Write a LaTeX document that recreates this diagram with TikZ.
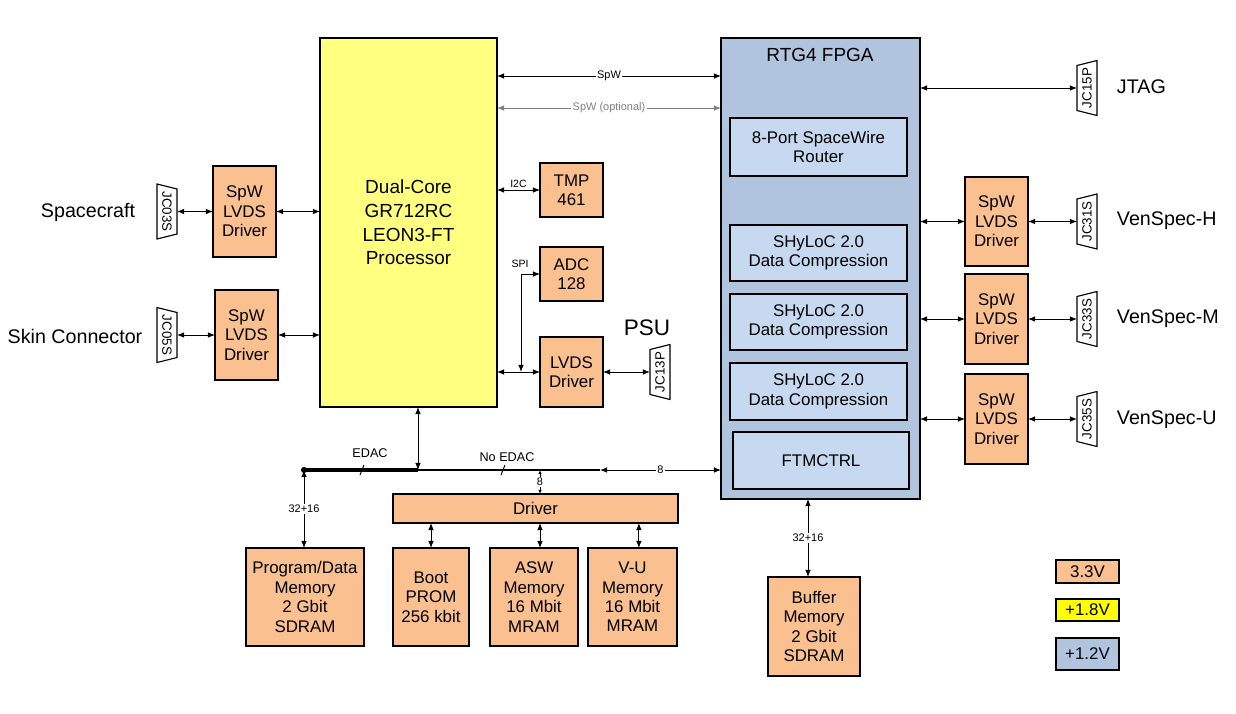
\documentclass[tikz,border=0pt]{standalone}
\usepackage{fontspec}
\setmainfont{Liberation Sans}
\usetikzlibrary{arrows.meta,calc}
\definecolor{org}{RGB}{250,192,144}
\definecolor{cpuyel}{RGB}{255,255,128}
\definecolor{pureyel}{RGB}{255,255,0}
\definecolor{fpgablue}{RGB}{176,196,222}
\definecolor{innerblue}{RGB}{198,217,241}
\definecolor{optgray}{RGB}{128,128,128}
\newcommand{\bx}[7]{\node[#6, minimum width={(#4-#2)*0.025cm}, minimum height={(#5-#3)*0.025cm}] (#1) at ({(#2+#4)/2},{(#3+#5)/2}) {#7};}
\newcommand{\connL}[3]{\node[conn] (#1) at (#2) {\rotatebox{-90}{#3}};
  \draw[connline] (#1.north west) -- ([yshift=-0.125cm]#1.north east) -- ([yshift=0.125cm]#1.south east) -- (#1.south west) -- cycle;}
\newcommand{\connR}[3]{\node[conn] (#1) at (#2) {\rotatebox{90}{#3}};
  \draw[connline] ([yshift=-0.125cm]#1.north west) -- (#1.north east) -- (#1.south east) -- ([yshift=0.125cm]#1.south west) -- cycle;}
\begin{document}
\begin{tikzpicture}[x=0.025cm,y=-0.025cm,
  box/.style={draw, line width=0.8pt, inner sep=1pt, outer sep=0pt, align=center, font=\fontsize{12}{13.8}\selectfont},
  obox/.style={box, fill=org},
  cpubox/.style={box, fill=cpuyel, font=\fontsize{13.5}{16.8}\selectfont},
  fbox/.style={box, fill=fpgablue},
  ibox/.style={box, fill=innerblue},
  conn/.style={minimum width=0.5cm, minimum height=1.375cm, inner sep=0pt, outer sep=0pt, font=\fontsize{9.5}{10}\selectfont},
  connline/.style={line width=0.8pt},
  biar/.style={{Latex[length=5pt,width=4pt]}-{Latex[length=5pt,width=4pt]}, line width=0.7pt},
  tinyar/.style={{Latex[length=3pt,width=2.5pt]}-{Latex[length=3pt,width=2.5pt]}, line width=0.6pt},
  lbl/.style={fill=white, inner sep=1pt, font=\fontsize{7.8}{9}\selectfont},
  sidelbl/.style={font=\fontsize{14}{16}\selectfont},
  buslbl/.style={font=\fontsize{9}{10}\selectfont}
]
\useasboundingbox (0,0) rectangle (1236,713);

% main blocks
\bx{cpu}{320}{38}{497}{407}{cpubox}{Dual-Core\\GR712RC\\LEON3-FT\\Processor}
\bx{fpga}{721}{38}{920}{499}{fbox}{}
\node[font=\fontsize{13.5}{16}\selectfont] (fpgatitle) at (820,55) {RTG4 FPGA};
\bx{router}{730}{118}{907}{176}{ibox}{8-Port SpaceWire\\Router}
\bx{shy1}{730}{225}{907}{281}{ibox}{SHyLoC 2.0\\Data Compression}
\bx{shy2}{730}{294}{907}{350}{ibox}{SHyLoC 2.0\\Data Compression}
\bx{shy3}{730}{363}{907}{420}{ibox}{SHyLoC 2.0\\Data Compression}
\bx{ftm}{733}{432}{909}{489}{ibox}{FTMCTRL}

% left drivers and connectors
\bx{ldrv1}{213}{166}{276}{257}{obox}{SpW\\LVDS\\Driver}
\bx{ldrv2}{215}{290}{278}{380}{obox}{SpW\\LVDS\\Driver}
\connL{jc03}{167,211.5}{JC03S}
\connL{jc05}{167,335}{JC05S}
\node[sidelbl] (spacecraft) at (88,212) {Spacecraft};
\node[sidelbl] (skin) at (75,336) {Skin Connector};
\draw[biar] (jc03.east) -- (ldrv1.west);
\draw[biar] (jc05.east) -- (ldrv2.west);
\draw[biar] (ldrv1.east) -- (cpu.west |- ldrv1.east);
\draw[biar] (ldrv2.east) -- (cpu.west |- ldrv2.east);

% peripherals
\bx{tmp}{540}{163}{603}{217}{obox}{TMP\\461}
\bx{adc}{540}{247}{603}{301}{obox}{ADC\\128}
\bx{lvds}{540}{337}{603}{407}{obox}{LVDS\\Driver}
\connR{jc13}{660,372}{JC13P}
\node[font=\fontsize{16}{18}\selectfont] (psu) at (647,328) {PSU};
\draw[biar] (cpu.east |- tmp.west) -- (tmp.west) node[pos=0.5, above, font=\fontsize{7.5}{9}\selectfont, inner sep=1.5pt] {I2C};
\draw[biar] (cpu.east |- lvds.west) -- (lvds.west);
\coordinate (spib) at (521,372);
\draw[biar] (spib) |- (adc.west);
\node[font=\fontsize{7.5}{9}\selectfont, anchor=south] (spi) at (520,273) {SPI};
\draw[biar] (lvds.east) -- (jc13.west);

% SpW links
\draw[biar] ([yshift=-0.95cm]cpu.north east) -- ([yshift=-0.95cm]fpga.north west) node[midway, lbl] {SpW};
\draw[biar, optgray] ([yshift=-1.75cm]cpu.north east) -- ([yshift=-1.75cm]fpga.north west) node[midway, lbl, text=optgray] {SpW (optional)};

% JTAG
\connR{jc15}{1087,88}{JC15P}
\node[sidelbl, anchor=west] (jtag) at (1112,87) {JTAG};
\draw[biar] (fpga.east |- jc15.west) -- (jc15.west);

% right drivers
\bx{rdh}{965}{177}{1028}{266}{obox}{SpW\\LVDS\\Driver}
\bx{rdm}{965}{274}{1028}{364}{obox}{SpW\\LVDS\\Driver}
\bx{rdu}{965}{374}{1028}{464}{obox}{SpW\\LVDS\\Driver}
\connR{jc31}{1087,221.5}{JC31S}
\connR{jc33}{1087,319}{JC33S}
\connR{jc35}{1087,419}{JC35S}
\node[sidelbl, anchor=west] (vh) at (1112,221) {VenSpec-H};
\node[sidelbl, anchor=west] (vm) at (1112,319) {VenSpec-M};
\node[sidelbl, anchor=west] (vu) at (1112,420) {VenSpec-U};
\foreach \d/\c in {rdh/jc31, rdm/jc33, rdu/jc35}{
  \draw[biar] (fpga.east |- \d.west) -- (\d.west);
  \draw[biar] (\d.east) -- (\c.west);
}

% memory bus
\coordinate (busl) at (304,470);
\coordinate (busj) at (418,470);
\coordinate (busa) at (600,470);
\coordinate (bust) at (540,470);
\draw[line width=2.3pt] (busl) -- (busj);
\draw[line width=1.2pt] (busj) -- (busa);
\fill (busl) circle (2.2pt);
\draw[biar] (busa) -- (fpga.west |- busa) node[midway, lbl] {8};
\draw[biar] (busj |- cpu.south) -- (busj);
\draw[line width=0.7pt] (360,475) -- (364,465);
\draw[line width=0.7pt] (501,475) -- (505,465);
\node[buslbl] (edac) at (370,453) {EDAC};
\node[buslbl] (noedac) at (507,457) {No EDAC};

% memories
\bx{pmem}{246}{548}{364}{646}{obox}{Program/Data\\Memory\\2 Gbit\\SDRAM}
\bx{drv}{393}{494}{678}{523}{obox}{Driver}
\bx{boot}{393}{548}{469}{646}{obox}{Boot\\PROM\\256 kbit}
\bx{asw}{490}{548}{578}{646}{obox}{ASW\\Memory\\16 Mbit\\MRAM}
\bx{vumem}{588}{548}{677}{646}{obox}{V-U\\Memory\\16 Mbit\\MRAM}
\bx{buf}{768}{577}{860}{676}{obox}{Buffer\\Memory\\2 Gbit\\SDRAM}
\coordinate (aswtop) at ([xshift=0.15cm]asw.north);
\coordinate (vutop) at ([xshift=0.16cm]vumem.north);
\coordinate (buftop) at ([xshift=-0.15cm]buf.north);
\draw[biar] (busl) -- (pmem.north -| busl) node[midway, lbl] {32+16};
\draw[tinyar] (bust) -- (drv.north -| bust) node[midway, lbl, inner sep=0.5pt] {8};
\draw[biar] (drv.south -| boot.north) -- (boot.north);
\draw[biar] (drv.south -| aswtop) -- (aswtop);
\draw[biar] (drv.south -| vutop) -- (vutop);
\draw[biar] (fpga.south -| buftop) -- (buftop) node[midway, lbl] {32+16};

% legend
\bx{l33}{1056}{560}{1119}{583}{obox}{3.3V}
\bx{l18}{1056}{599}{1119}{621}{box, fill=pureyel}{+1.8V}
\bx{l12}{1056}{638}{1119}{670}{fbox}{+1.2V}
\end{tikzpicture}
\end{document}
